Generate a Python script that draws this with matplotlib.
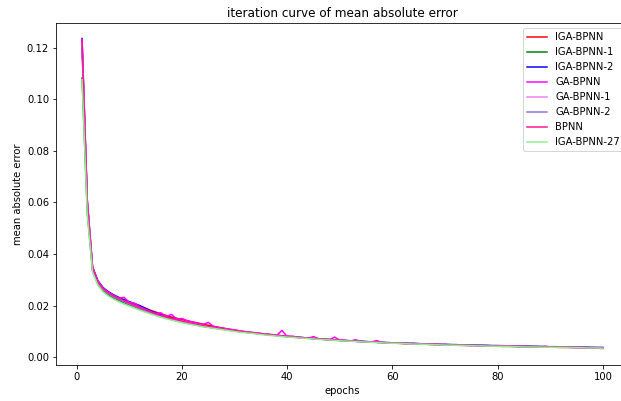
#!/usr/bin/env python3

import numpy as np
from matplotlib import pyplot as plt

epochs = np.arange(1, 101)

iga_bpnn = [
    0.1200, 0.0590, 0.0340, 0.0288, 0.0263, 0.0247, 0.0236, 0.0227, 0.0220, 0.0214,
    0.0206, 0.0198, 0.0190, 0.0182, 0.0175, 0.0168, 0.0162, 0.0156, 0.0151, 0.0146,
    0.0141, 0.0137, 0.0133, 0.0128, 0.0124, 0.0120, 0.0116, 0.0112, 0.0108, 0.0105,
    0.0102, 0.0099, 0.0096, 0.0094, 0.0092, 0.0089, 0.0087, 0.0085, 0.0083, 0.0081,
    0.0079, 0.0077, 0.0075, 0.0074, 0.0072, 0.0071, 0.0069, 0.0068, 0.0067, 0.0065,
    0.0064, 0.0063, 0.0062, 0.0061, 0.0060, 0.0059, 0.0058, 0.0057, 0.0056, 0.0055,
    0.0054, 0.0053, 0.0053, 0.0052, 0.0051, 0.0051, 0.0050, 0.0049, 0.0049, 0.0048,
    0.0047, 0.0047, 0.0046, 0.0046, 0.0045, 0.0045, 0.0044, 0.0044, 0.0043, 0.0043,
    0.0042, 0.0042, 0.0042, 0.0041, 0.0041, 0.0040, 0.0040, 0.0040, 0.0039, 0.0039,
    0.0039, 0.0038, 0.0038, 0.0038, 0.0037, 0.0037, 0.0036, 0.0036, 0.0035, 0.0034]

iga_bpnn_1 = [
    0.1082, 0.0560, 0.0335, 0.0285, 0.0258, 0.0242, 0.0230, 0.0220, 0.0211, 0.0203,
    0.0195, 0.0187, 0.0179, 0.0172, 0.0165, 0.0158, 0.0152, 0.0147, 0.0142, 0.0137,
    0.0132, 0.0128, 0.0124, 0.0120, 0.0117, 0.0114, 0.0111, 0.0108, 0.0105, 0.0102,
    0.0099, 0.0097, 0.0095, 0.0092, 0.0090, 0.0088, 0.0086, 0.0084, 0.0082, 0.0080,
    0.0078, 0.0077, 0.0075, 0.0074, 0.0072, 0.0071, 0.0069, 0.0068, 0.0067, 0.0065,
    0.0064, 0.0063, 0.0062, 0.0061, 0.0060, 0.0059, 0.0058, 0.0057, 0.0056, 0.0056,
    0.0055, 0.0054, 0.0053, 0.0053, 0.0052, 0.0051, 0.0051, 0.0050, 0.0050, 0.0049,
    0.0049, 0.0048, 0.0048, 0.0047, 0.0047, 0.0046, 0.0046, 0.0045, 0.0045, 0.0045,
    0.0044, 0.0044, 0.0043, 0.0043, 0.0043, 0.0042, 0.0042, 0.0041, 0.0041, 0.0040,
    0.0040, 0.0040, 0.0039, 0.0039, 0.0039, 0.0038, 0.0038, 0.0038, 0.0037, 0.0037]

iga_bpnn_2 = [
    0.1235, 0.0605, 0.0350, 0.0297, 0.0270, 0.0254, 0.0242, 0.0232, 0.0223, 0.0215,
    0.0208, 0.0200, 0.0190, 0.0180, 0.0172, 0.0164, 0.0157, 0.0150, 0.0144, 0.0138,
    0.0133, 0.0128, 0.0124, 0.0120, 0.0117, 0.0114, 0.0111, 0.0108, 0.0105, 0.0102,
    0.0100, 0.0097, 0.0095, 0.0093, 0.0091, 0.0089, 0.0087, 0.0085, 0.0083, 0.0081,
    0.0079, 0.0078, 0.0076, 0.0075, 0.0073, 0.0072, 0.0070, 0.0069, 0.0068, 0.0066,
    0.0065, 0.0064, 0.0063, 0.0062, 0.0061, 0.0060, 0.0059, 0.0058, 0.0057, 0.0056,
    0.0056, 0.0055, 0.0054, 0.0054, 0.0053, 0.0052, 0.0052, 0.0051, 0.0050, 0.0050,
    0.0049, 0.0049, 0.0048, 0.0048, 0.0047, 0.0047, 0.0046, 0.0046, 0.0045, 0.0045,
    0.0045, 0.0044, 0.0044, 0.0043, 0.0043, 0.0043, 0.0042, 0.0042, 0.0041, 0.0041,
    0.0041, 0.0040, 0.0040, 0.0040, 0.0039, 0.0039, 0.0039, 0.0038, 0.0038, 0.0038]

ga_bpnn = [
    0.1232, 0.0610, 0.0350, 0.0295, 0.0268, 0.0252, 0.0240, 0.0229, 0.0232, 0.0212,
    0.0209, 0.0195, 0.0186, 0.0177, 0.0170, 0.0172, 0.0158, 0.0166, 0.0148, 0.0150,
    0.0142, 0.0136, 0.0131, 0.0127, 0.0135, 0.0119, 0.0115, 0.0112, 0.0109, 0.0106,
    0.0102, 0.0099, 0.0097, 0.0095, 0.0092, 0.0090, 0.0088, 0.0085, 0.0104, 0.0080,
    0.0082, 0.0077, 0.0076, 0.0074, 0.0080, 0.0071, 0.0070, 0.0068, 0.0078, 0.0066,
    0.0065, 0.0063, 0.0068, 0.0061, 0.0060, 0.0059, 0.0065, 0.0057, 0.0056, 0.0055,
    0.0055, 0.0054, 0.0053, 0.0053, 0.0052, 0.0051, 0.0051, 0.0050, 0.0049, 0.0049,
    0.0048, 0.0047, 0.0047, 0.0046, 0.0046, 0.0045, 0.0045, 0.0045, 0.0044, 0.0044,
    0.0043, 0.0043, 0.0042, 0.0042, 0.0042, 0.0041, 0.0041, 0.0040, 0.0043, 0.0040,
    0.0039, 0.0039, 0.0039, 0.0038, 0.0038, 0.0038, 0.0037, 0.0037, 0.0037, 0.0037]

ga_bpnn_1 = [
    0.1215, 0.0595, 0.0342, 0.0290, 0.0264, 0.0248, 0.0236, 0.0226, 0.0217, 0.0208,
    0.0199, 0.0190, 0.0182, 0.0174, 0.0167, 0.0160, 0.0154, 0.0148, 0.0143, 0.0138,
    0.0134, 0.0130, 0.0126, 0.0122, 0.0118, 0.0115, 0.0112, 0.0109, 0.0106, 0.0103,
    0.0100, 0.0098, 0.0095, 0.0093, 0.0091, 0.0089, 0.0087, 0.0085, 0.0083, 0.0081,
    0.0079, 0.0077, 0.0076, 0.0074, 0.0073, 0.0071, 0.0070, 0.0069, 0.0067, 0.0066,
    0.0065, 0.0064, 0.0062, 0.0061, 0.0060, 0.0059, 0.0058, 0.0058, 0.0057, 0.0056,
    0.0055, 0.0054, 0.0054, 0.0053, 0.0052, 0.0052, 0.0051, 0.0050, 0.0050, 0.0049,
    0.0049, 0.0048, 0.0047, 0.0047, 0.0046, 0.0046, 0.0045, 0.0045, 0.0045, 0.0044,
    0.0044, 0.0043, 0.0043, 0.0042, 0.0042, 0.0042, 0.0041, 0.0041, 0.0041, 0.0040,
    0.0040, 0.0040, 0.0039, 0.0039, 0.0039, 0.0038, 0.0038, 0.0038, 0.0037, 0.0037]

ga_bpnn_2 = [
    0.1210, 0.0590, 0.0340, 0.0289, 0.0262, 0.0246, 0.0234, 0.0224, 0.0215, 0.0206,
    0.0197, 0.0189, 0.0181, 0.0173, 0.0166, 0.0159, 0.0153, 0.0147, 0.0142, 0.0137,
    0.0133, 0.0129, 0.0125, 0.0121, 0.0117, 0.0114, 0.0111, 0.0108, 0.0105, 0.0102,
    0.0099, 0.0097, 0.0095, 0.0093, 0.0090, 0.0088, 0.0086, 0.0084, 0.0082, 0.0080,
    0.0078, 0.0077, 0.0075, 0.0074, 0.0072, 0.0071, 0.0070, 0.0068, 0.0067, 0.0066,
    0.0064, 0.0063, 0.0062, 0.0061, 0.0060, 0.0059, 0.0058, 0.0057, 0.0056, 0.0055,
    0.0055, 0.0054, 0.0053, 0.0052, 0.0052, 0.0051, 0.0050, 0.0050, 0.0049, 0.0049,
    0.0048, 0.0048, 0.0047, 0.0047, 0.0046, 0.0046, 0.0045, 0.0045, 0.0044, 0.0044,
    0.0043, 0.0043, 0.0043, 0.0042, 0.0042, 0.0041, 0.0041, 0.0041, 0.0040, 0.0040,
    0.0040, 0.0039, 0.0039, 0.0039, 0.0038, 0.0038, 0.0038, 0.0037, 0.0037, 0.0037]

bpnn = [
    0.1228, 0.0600, 0.0345, 0.0292, 0.0266, 0.0250, 0.0238, 0.0228, 0.0219, 0.0210,
    0.0201, 0.0192, 0.0184, 0.0176, 0.0169, 0.0162, 0.0156, 0.0150, 0.0145, 0.0140,
    0.0135, 0.0131, 0.0127, 0.0123, 0.0119, 0.0116, 0.0113, 0.0110, 0.0107, 0.0104,
    0.0101, 0.0098, 0.0096, 0.0094, 0.0091, 0.0089, 0.0087, 0.0085, 0.0083, 0.0081,
    0.0079, 0.0077, 0.0076, 0.0074, 0.0073, 0.0071, 0.0070, 0.0068, 0.0067, 0.0066,
    0.0065, 0.0063, 0.0062, 0.0061, 0.0060, 0.0059, 0.0058, 0.0057, 0.0056, 0.0055,
    0.0055, 0.0054, 0.0053, 0.0052, 0.0052, 0.0051, 0.0050, 0.0050, 0.0049, 0.0048,
    0.0048, 0.0047, 0.0047, 0.0046, 0.0046, 0.0045, 0.0045, 0.0044, 0.0044, 0.0043,
    0.0043, 0.0043, 0.0042, 0.0042, 0.0041, 0.0041, 0.0041, 0.0040, 0.0040, 0.0040,
    0.0039, 0.0039, 0.0039, 0.0038, 0.0038, 0.0038, 0.0037, 0.0037, 0.0037, 0.0036]

iga_bpnn_27 = [
    0.1075, 0.0550, 0.0330, 0.0280, 0.0253, 0.0237, 0.0225, 0.0215, 0.0206, 0.0198,
    0.0190, 0.0182, 0.0175, 0.0168, 0.0161, 0.0155, 0.0149, 0.0144, 0.0139, 0.0134,
    0.0130, 0.0126, 0.0122, 0.0118, 0.0115, 0.0112, 0.0109, 0.0106, 0.0103, 0.0100,
    0.0097, 0.0095, 0.0093, 0.0091, 0.0088, 0.0086, 0.0084, 0.0082, 0.0080, 0.0078,
    0.0077, 0.0075, 0.0074, 0.0072, 0.0071, 0.0069, 0.0068, 0.0067, 0.0065, 0.0064,
    0.0063, 0.0062, 0.0061, 0.0060, 0.0059, 0.0058, 0.0057, 0.0056, 0.0055, 0.0054,
    0.0054, 0.0053, 0.0052, 0.0051, 0.0051, 0.0050, 0.0049, 0.0049, 0.0048, 0.0047,
    0.0047, 0.0046, 0.0046, 0.0045, 0.0045, 0.0044, 0.0044, 0.0043, 0.0043, 0.0042,
    0.0042, 0.0042, 0.0041, 0.0041, 0.0040, 0.0040, 0.0040, 0.0039, 0.0039, 0.0039,
    0.0038, 0.0038, 0.0038, 0.0037, 0.0037, 0.0037, 0.0036, 0.0036, 0.0036, 0.0035]

labels = ['IGA-BPNN', 'IGA-BPNN-1', 'IGA-BPNN-2', 'GA-BPNN', 'GA-BPNN-1',
          'GA-BPNN-2', 'BPNN', 'IGA-BPNN-27']
series = [iga_bpnn, iga_bpnn_1, iga_bpnn_2, ga_bpnn, ga_bpnn_1,
          ga_bpnn_2, bpnn, iga_bpnn_27]
colors = ['red', 'green', 'blue', 'magenta', 'violet',
          'mediumpurple', 'deeppink', 'lightgreen']

# the original picture is cropped on the right, so the axes run past the edge
fig = plt.figure(figsize=(621 / 72, 401 / 72), dpi=72)
ax = fig.add_axes([56 / 621, 36 / 401, 573 / 621, 342 / 401])

for vals, lab, col in zip(series, labels, colors):
    ax.plot(epochs, vals, color=col, label=lab)

ax.set_ylim(-0.0030, 0.1295)
ax.set_xlabel('epochs')
ax.set_ylabel('mean absolute error')
ax.set_title('iteration curve of mean absolute error', fontsize=12)
ax.legend(loc='upper right')

fig.savefig('out.png', dpi=72)
